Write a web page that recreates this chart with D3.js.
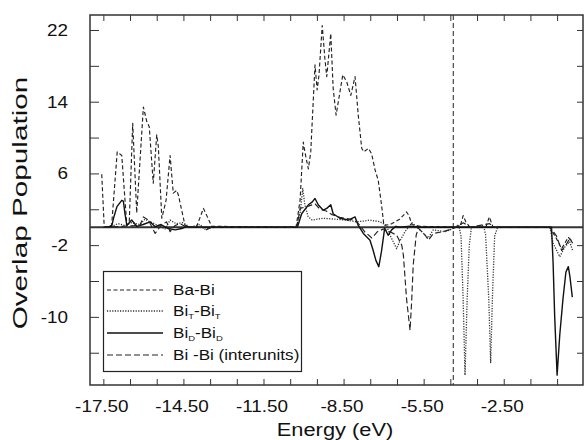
<!DOCTYPE html>
<html><head><meta charset="utf-8">
<script src="https://cdn.jsdelivr.net/npm/d3@7"></script>
<style>body{margin:0;background:#fff}svg text{font-family:"Liberation Sans",Arial,sans-serif;fill:#111}</style>
</head><body><svg id="c" width="584" height="440"></svg>
<script>
// ---- data (energy in eV, overlap population) ----
const xTickLabels = [-17.5, -14.5, -11.5, -8.5, -5.5, -2.5];
const yTickLabels = [22, 14, 6, -2, -10];
const fermiEnergy = -4.39;
const seriesNames = ["Ba-Bi", "BiT-BiT", "BiD-BiD", "Bi -Bi (interunits)"];

const baBiE = [-17.56,-17.47,-17.44,-17.19,-16.98,-16.81,-16.62,-16.53,-16.40,-16.25,-16.00,-15.87,-15.78,-15.63,-15.50,-15.44,-15.31,-15.15,-15.00,-14.88,-14.75,-14.69,-14.44,-14.25,-14.00,-13.75,-13.44,
  -10.28,-10.13,-10.01,-9.95,-9.82,-9.73,-9.57,-9.49,-9.42,-9.30,-9.20,-9.13,-8.98,-8.89,-8.78,-8.53,-8.38,-8.23,-8.07,-7.95,-7.82,-7.74,-7.57,-7.45,-7.32,-7.20,-7.07,-6.99,-6.76,-6.57,-6.40,-6.14,-6.05,-5.94,-5.64,
  -4.14,-4.02,-3.92,-3.77,-3.17,-3.04,-2.90,-0.77,-0.52,-0.33,-0.08,0.04];
const baBiV = [5.9,0.2,0,0.2,8.4,8.0,0.2,0.5,11.6,1.6,13.4,11.75,11.2,4.9,10.3,9.0,1.0,3.0,8.0,3.8,4.1,3.6,0.2,0,0.1,2.1,0.1,
  0,3.0,9.5,8.4,6.5,8.4,18.1,15.3,17.0,22.5,18.8,16.8,21.6,15.5,12.5,17.0,16.2,14.7,16.8,12.5,8.8,8.4,8.8,8.2,6.4,5.2,2.3,0.2,0.3,0.6,0.9,1.7,1.3,0.3,0.1,
  0,1.3,0.6,0,0,1.15,0,0,-1.3,-2.4,-1.1,-1.6];

const biTE = [-17.5,-17.19,-16.95,-16.69,-16.44,-16.13,-15.94,-15.75,-15.45,-15.19,-15.00,-14.78,-14.52,-14.25,-13.88,-13.70,-13.43,
  -10.28,-10.13,-10.03,-9.95,-9.83,-9.68,-9.27,-8.82,-8.45,-8.01,-7.70,-7.51,-7.13,-6.89,-6.76,-6.51,-6.40,-6.20,-5.94,-5.64,-5.33,-5.14,-4.69,-4.43,
  -4.19,-4.10,-4.02,-3.95,-3.87,-3.79,-3.71,-3.26,-3.18,-3.06,-2.99,-2.92,-2.84,-2.73,-0.77,-0.65,-0.40,-0.21,-0.03,0.08];
const biTV = [0,0.1,0.4,0.2,0.5,0.3,0.9,0.6,0.2,-0.2,0.8,0.4,0.5,0,0.3,-0.2,0,
  0,1.5,4.3,2.5,1.2,0.8,1.0,0.9,0.8,0.6,0.7,0.8,0.6,0.2,-0.9,-2.4,-1.6,-0.5,0.5,-0.3,-1.2,-0.3,-0.5,-0.2,
  0.3,-1.0,-8.0,-16.5,-8.0,-2.0,0,0.2,-0.8,-8.0,-15.1,-7.5,-1.0,0,0,-1.8,-3.3,-2.2,-1.6,-2.6];

const biDE = [-17.44,-17.19,-17.10,-16.99,-16.81,-16.75,-16.69,-16.62,-16.44,-16.25,-16.01,-15.75,-15.56,-15.34,-15.07,-14.81,-14.56,-14.38,-14.25,
  -10.23,-10.07,-9.82,-9.68,-9.57,-9.45,-9.26,-9.13,-8.98,-8.89,-8.64,-8.32,-8.07,-7.95,-7.76,-7.51,-7.39,-7.29,-7.18,-7.08,-6.96,-6.83,-6.70,-6.54,-6.40,-6.00,-5.63,
  -0.71,-0.65,-0.59,-0.50,-0.40,-0.28,-0.17,-0.08,-0.02,0.07];
const biDV = [0,0.1,1.2,2.3,3.0,2.9,1.5,0.2,0.8,0.1,0.3,0.6,0.05,0.3,-0.15,-0.3,-0.15,0.1,0,
  0,1.5,2.5,2.8,3.2,2.5,1.9,2.1,2.5,1.5,1.0,0.8,1.15,0.2,-0.7,-1.45,-2.6,-3.7,-4.4,-2.7,-0.1,-0.9,-0.3,0.1,0,0.1,0,
  0,-4.0,-10.0,-16.5,-12.0,-8.0,-5.0,-4.4,-5.5,-7.8];

const biIE = [-17.5,-16.13,-16.00,-15.81,-15.56,-15.34,-15.13,-15.00,-14.81,-14.63,-14.38,-13.80,-13.65,-13.44,
  -10.25,-10.13,-9.88,-9.57,-9.38,-9.15,-8.93,-8.64,-8.27,-8.04,-7.89,-7.71,-7.44,-7.23,-7.01,-6.76,-6.51,-6.32,-6.26,-6.14,-6.01,-5.95,-5.89,-5.78,-5.70,-5.44,-5.32,-5.14,-4.77,-4.44,-4.28,
  -4.01,-3.77,-3.03,-2.85,-0.77,-0.52,-0.33,-0.17,-0.02,0.08];
const biIV = [0,0.2,1.15,0.8,-0.7,0.2,0.6,-0.5,0.2,0.4,0,0,-0.3,0,
  0,2.1,2.3,2.6,2.0,1.8,1.4,1.1,0.9,0.7,0.2,-0.5,-1.2,-0.5,-0.2,-0.5,-0.9,-2.0,-3.1,-8.0,-11.5,-8.3,-4.2,-0.9,-0.1,-0.9,-1.45,-0.7,-0.5,-0.2,0,
  0.5,0,0.4,0,0,-1.0,-2.6,-2.0,-1.2,-1.8];

// ---- layout ----
const svg = d3.select("#c");
const L = 90, R = 583, T = 15, B = 385;
const SX = 1.18; // horizontal stretch of the original lettering
const x = d3.scaleLinear().domain([-18.0, 0.47]).range([L, R]);
const y = d3.scaleLinear().domain([-17.6, 23.67]).range([B, T]);

const series = [
  {E: baBiE, V: baBiV, dash: "4,2.5", w: 1.15, color: "#222"},
  {E: biTE, V: biTV, dash: "1.2,1.4", w: 1.3, color: "#333"},
  {E: biDE, V: biDV, dash: null, w: 1.4, color: "#111"},
  {E: biIE, V: biIV, dash: "6,3", w: 1.15, color: "#222"}
];

const line = d3.line().x(d => x(d[0])).y(d => y(d[1]));
const plot = svg.append("g");
plot.append("line").attr("x1", L).attr("x2", R).attr("y1", y(0)).attr("y2", y(0))
  .attr("stroke", "#333").attr("stroke-width", 2);
plot.append("line").attr("x1", x(fermiEnergy)).attr("x2", x(fermiEnergy)).attr("y1", T).attr("y2", B)
  .attr("stroke", "#222").attr("stroke-width", 1).attr("stroke-dasharray", "5,3");

series.forEach(s => {
  const pts = s.E.map((e, i) => [e, s.V[i]]);
  plot.append("path").attr("d", line(pts)).attr("fill", "none")
    .attr("stroke", s.color).attr("stroke-width", s.w)
    .attr("stroke-dasharray", s.dash).attr("stroke-linejoin", "round");
});

// axes
const xTicksAll = d3.range(-17.5, 0, 1);
const yTicksAll = d3.range(-14, 23, 4);
svg.append("g").attr("transform", `translate(0,${B})`)
  .call(d3.axisBottom(x).tickValues(xTicksAll).tickSize(-6).tickFormat(""))
  .call(g => g.select(".domain").remove());
svg.append("g").attr("transform", `translate(0,${T})`)
  .call(d3.axisTop(x).tickValues(xTicksAll).tickSize(-6).tickFormat(""))
  .call(g => g.select(".domain").remove());
svg.append("g").attr("transform", `translate(${L},0)`)
  .call(d3.axisLeft(y).tickValues(yTicksAll).tickSize(-9).tickFormat(""))
  .call(g => g.select(".domain").remove());
svg.append("g").attr("transform", `translate(${R},0)`)
  .call(d3.axisRight(y).tickValues(yTicksAll).tickSize(-6).tickFormat(""))
  .call(g => g.select(".domain").remove());
svg.selectAll(".tick line").attr("stroke", "#333").attr("stroke-width", 1);

svg.append("rect").attr("x", L).attr("y", T).attr("width", R - L).attr("height", B - T)
  .attr("fill", "none").attr("stroke", "#333").attr("stroke-width", 1.5);

// tick labels (stretched horizontally like the original lettering)
svg.append("g").selectAll("text").data(xTickLabels).join("text")
  .attr("transform", d => `translate(${x(d) - 1.5},412) scale(${SX},1)`)
  .attr("text-anchor", "middle").attr("font-size", 16).text(d => d.toFixed(2));
svg.append("g").selectAll("text").data(yTickLabels).join("text")
  .attr("transform", d => `translate(68,${y(d) + 6}) scale(${SX},1)`)
  .attr("text-anchor", "end").attr("font-size", 16).text(d => d);

// axis titles
svg.append("text").attr("transform", `translate(335,436) scale(${SX},1)`).attr("text-anchor", "middle")
  .attr("font-size", 18.5).text("Energy (eV)");
svg.append("text").attr("transform", "translate(27,203) rotate(-90) scale(1.45,1)").attr("text-anchor", "middle")
  .attr("font-size", 20.5).text("Overlap Population");

// legend
const lg = svg.append("g");
lg.append("rect").attr("x", 103.5).attr("y", 271.5).attr("width", 198).attr("height", 100)
  .attr("fill", "#fff").attr("stroke", "#222").attr("stroke-width", 1.2);
const rows = [290, 311, 333, 355];
series.forEach((s, i) => {
  lg.append("line").attr("x1", 107).attr("x2", 163).attr("y1", rows[i]).attr("y2", rows[i])
    .attr("stroke", s.color).attr("stroke-width", s.w).attr("stroke-dasharray", s.dash);
});
function legendText(i) {
  return lg.append("text").attr("transform", `translate(173,${rows[i] + 5}) scale(${SX},1)`).attr("font-size", 14.5);
}
function sub(i, s) {
  const el = legendText(i);
  el.append("tspan").text("Bi");
  el.append("tspan").attr("font-size", 8).attr("dy", 3).text(s);
  el.append("tspan").attr("dy", -3).text("-Bi");
  el.append("tspan").attr("font-size", 8).attr("dy", 3).text(s);
}
legendText(0).text(seriesNames[0]);
sub(1, "T");
sub(2, "D");
legendText(3).text(seriesNames[3]);
</script></body></html>
